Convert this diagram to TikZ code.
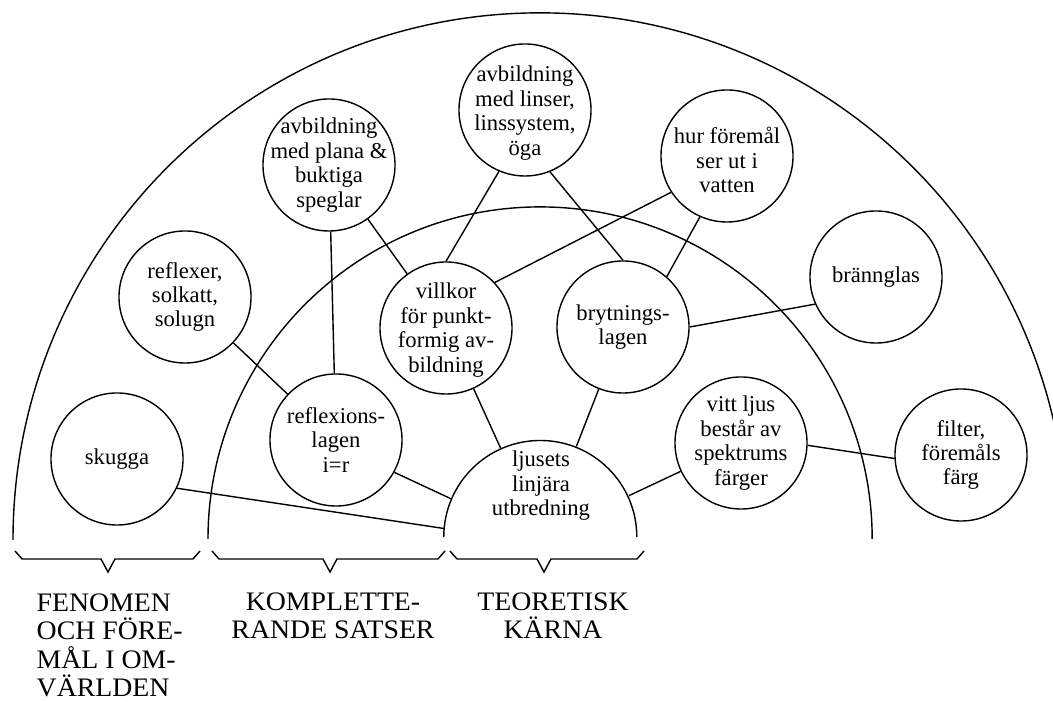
\documentclass[tikz,border=0pt]{standalone}
\usepackage{fontspec}
\setmainfont{Liberation Serif}
\newfontfamily\headfont[FakeStretch=1.04]{Liberation Serif}
\usetikzlibrary{positioning}

\begin{document}
\begin{tikzpicture}[
    x=0.025cm, y=0.025cm,
    line width=1pt,
    topic/.style={circle, draw, minimum size=3.3cm, inner sep=0pt},
    topictext/.style={align=center, inner sep=0pt, font=\fontsize{16.1}{17.4}\selectfont},
    brace/.style={line join=miter},
    heading/.style={inner sep=0pt, font=\headfont\fontsize{19}{20.2}\selectfont}
]
\useasboundingbox (0,0) rectangle (1053,702);
% Rings: outer world, complementary laws, theoretical core
\draw (13,162) arc[start angle=180, end angle=12, radius=13.175cm];
\draw (208,163) arc[start angle=180, end angle=0, radius=8.3cm];
\node[circle, minimum size=4.825cm, inner sep=0pt] (core) at (541,165) {};
\draw (core.west) arc[start angle=180, end angle=0, radius=2.4125cm];
\node[topictext] (core-txt) at (541,216) {ljusets\\linjära\\utbredning};
% Topic circles (px coordinates, y up)
\node[topic] (skugga) at (117,243) {};
\node[topic] (reflexer) at (185,405) {};
\node[topic] (plana) at (329,537) {};
\node[topic] (linser) at (525,592) {};
\node[topic] (hur) at (727,546) {};
\node[topic] (villkor) at (446,374) {};
\node[topic] (bryt) at (623,375) {};
\node[topic] (brann) at (876,425) {};
\node[topic] (refl) at (336,262) {};
\node[topic] (vitt) at (741,259) {};
\node[topic] (filter) at (961,247) {};
\node[topictext] (skugga-txt) at (skugga.center) {skugga};
\node[topictext] (reflexer-txt) at (reflexer.center) {reflexer,\\solkatt,\\solugn};
\node[topictext] (plana-txt) at (plana.center) {avbildning\\med plana \&\\buktiga\\speglar};
\node[topictext] (linser-txt) at ([yshift=-0.08cm]linser.center) {avbildning\\med linser,\\linssystem,\\öga};
\node[topictext] (hur-txt) at ([yshift=-0.1cm]hur.center) {hur föremål\\ser ut i\\vatten};
\node[topictext] (villkor-txt) at ([yshift=-0.05cm]villkor.center) {villkor\\för punkt-\\formig av-\\bildning};
\node[topictext] (bryt-txt) at (bryt.center) {brytnings-\\lagen};
\node[topictext] (brann-txt) at (brann.center) {brännglas};
\node[topictext] (refl-txt) at (refl.center) {reflexions-\\lagen\\i=r};
\node[topictext] (vitt-txt) at (vitt.center) {vitt ljus\\består av\\spektrums\\färger};
\node[topictext] (filter-txt) at (filter.center) {filter,\\föremåls\\färg};
% Connections
\draw (skugga.-26) -- (core.175);
\draw (reflexer) -- (refl);
\draw (plana) -- (refl);
\draw (plana) -- (villkor);
\draw (linser.-113) -- (villkor.90);
\draw (linser.-68) -- (bryt.90);
\draw (hur.-147) -- (villkor.43);
\draw (hur.-114) -- (bryt.49);
\draw (refl.-29) -- (core.157);
\draw (villkor) -- (core);
\draw (bryt) -- (core);
\draw (bryt.0) -- (brann.204);
\draw (vitt) -- (core);
\draw (vitt.-2) -- (filter.183);
% Braces under the rings
\foreach \l/\t/\r in {15/108/200, 212/330/445, 450/544/644}
    \draw[brace] (\l,151) -- (\l+7,143) -- (\t-7,143) -- (\t,130) -- (\t+7,143) -- (\r-7,143) -- (\r,151);
\node[heading, anchor=north west, align=left] (fenomen) at (36,109) {FENOMEN\\OCH FÖRE-\\MÅL I OM-\\VÄRLDEN};
\node[heading, anchor=north, align=center] (komplette) at (333,110) {KOMPLETTE-\\RANDE SATSER};
\node[heading, anchor=north, align=center] (teoretisk) at (553,110) {TEORETISK\\KÄRNA};
\end{tikzpicture}
\end{document}
